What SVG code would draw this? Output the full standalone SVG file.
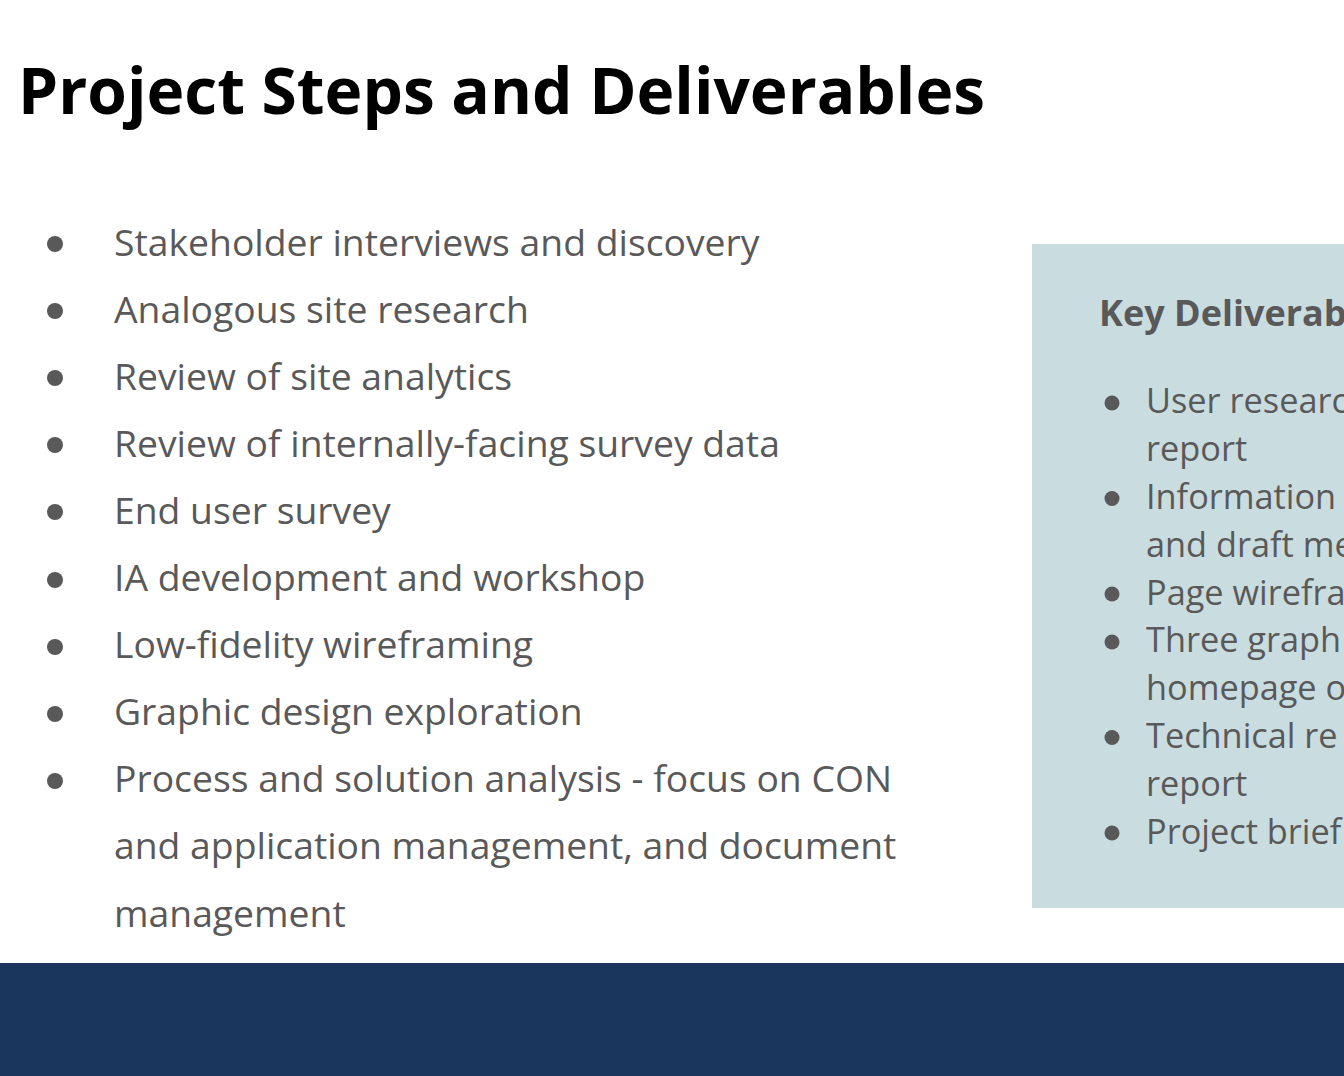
<svg xmlns="http://www.w3.org/2000/svg" width="1344" height="1076" viewBox="0 0 1344 1076">
<style>
.t{font-family:"Open Sans","Noto Sans","Liberation Sans",sans-serif;fill:#595959}
.l{font-size:37.3px}
.r{font-size:34.3px}
.d{fill:#595959}
</style>
<rect x="0" y="0" width="1344" height="1076" fill="#ffffff"/>
<text x="18" y="114" font-family="'Open Sans','Noto Sans','Liberation Sans',sans-serif" font-weight="bold" font-size="64" fill="#000000">Project Steps and Deliverables</text>
<g id="steps">
<circle class="d" cx="55" cy="244" r="8"/>
<circle class="d" cx="55" cy="311" r="8"/>
<circle class="d" cx="55" cy="378" r="8"/>
<circle class="d" cx="55" cy="445" r="8"/>
<circle class="d" cx="55" cy="512" r="8"/>
<circle class="d" cx="55" cy="580" r="8"/>
<circle class="d" cx="55" cy="647" r="8"/>
<circle class="d" cx="55" cy="714" r="8"/>
<circle class="d" cx="55" cy="781" r="8"/>
<text class="t l" x="114" y="255.5">Stakeholder interviews and discovery</text>
<text class="t l" x="114" y="322.6">Analogous site research</text>
<text class="t l" x="114" y="389.7">Review of site analytics</text>
<text class="t l" x="114" y="456.8">Review of internally-facing survey data</text>
<text class="t l" x="114" y="523.9">End user survey</text>
<text class="t l" x="114" y="591">IA development and workshop</text>
<text class="t l" x="114" y="658.1">Low-fidelity wireframing</text>
<text class="t l" x="114" y="725.2">Graphic design exploration</text>
<text class="t l" x="114" y="792.3">Process and solution analysis - focus on CON</text>
<text class="t l" x="114" y="859.4">and application management, and document</text>
<text class="t l" x="114" y="926.5">management</text>
</g>
<g id="deliverables">
<rect x="1032" y="244" width="320" height="664" fill="#c9dcdf"/>
<text class="t" x="1099" y="326" font-size="36" font-weight="bold">Key Deliverables</text>
<circle class="d" cx="1112" cy="403" r="7.5"/>
<circle class="d" cx="1112" cy="498.5" r="7.5"/>
<circle class="d" cx="1112" cy="594" r="7.5"/>
<circle class="d" cx="1112" cy="642" r="7.5"/>
<circle class="d" cx="1112" cy="737.5" r="7.5"/>
<circle class="d" cx="1112" cy="833" r="7.5"/>
<text class="t r" x="1146" y="413.3">User research</text>
<text class="t r" x="1146" y="461.1">report</text>
<text class="t r" x="1146" y="508.9">Information</text>
<text class="t r" x="1146" y="556.7">and draft me</text>
<text class="t r" x="1146" y="604.5">Page wirefra</text>
<text class="t r" x="1146" y="652.3">Three graph</text>
<text class="t r" x="1146" y="700.1">homepage o</text>
<text class="t r" x="1146" y="747.9">Technical re</text>
<text class="t r" x="1146" y="795.7">report</text>
<text class="t r" x="1146" y="843.5">Project brief</text>
</g>
<rect id="footer" x="0" y="963" width="1344" height="113" fill="#1b365d"/>
</svg>
